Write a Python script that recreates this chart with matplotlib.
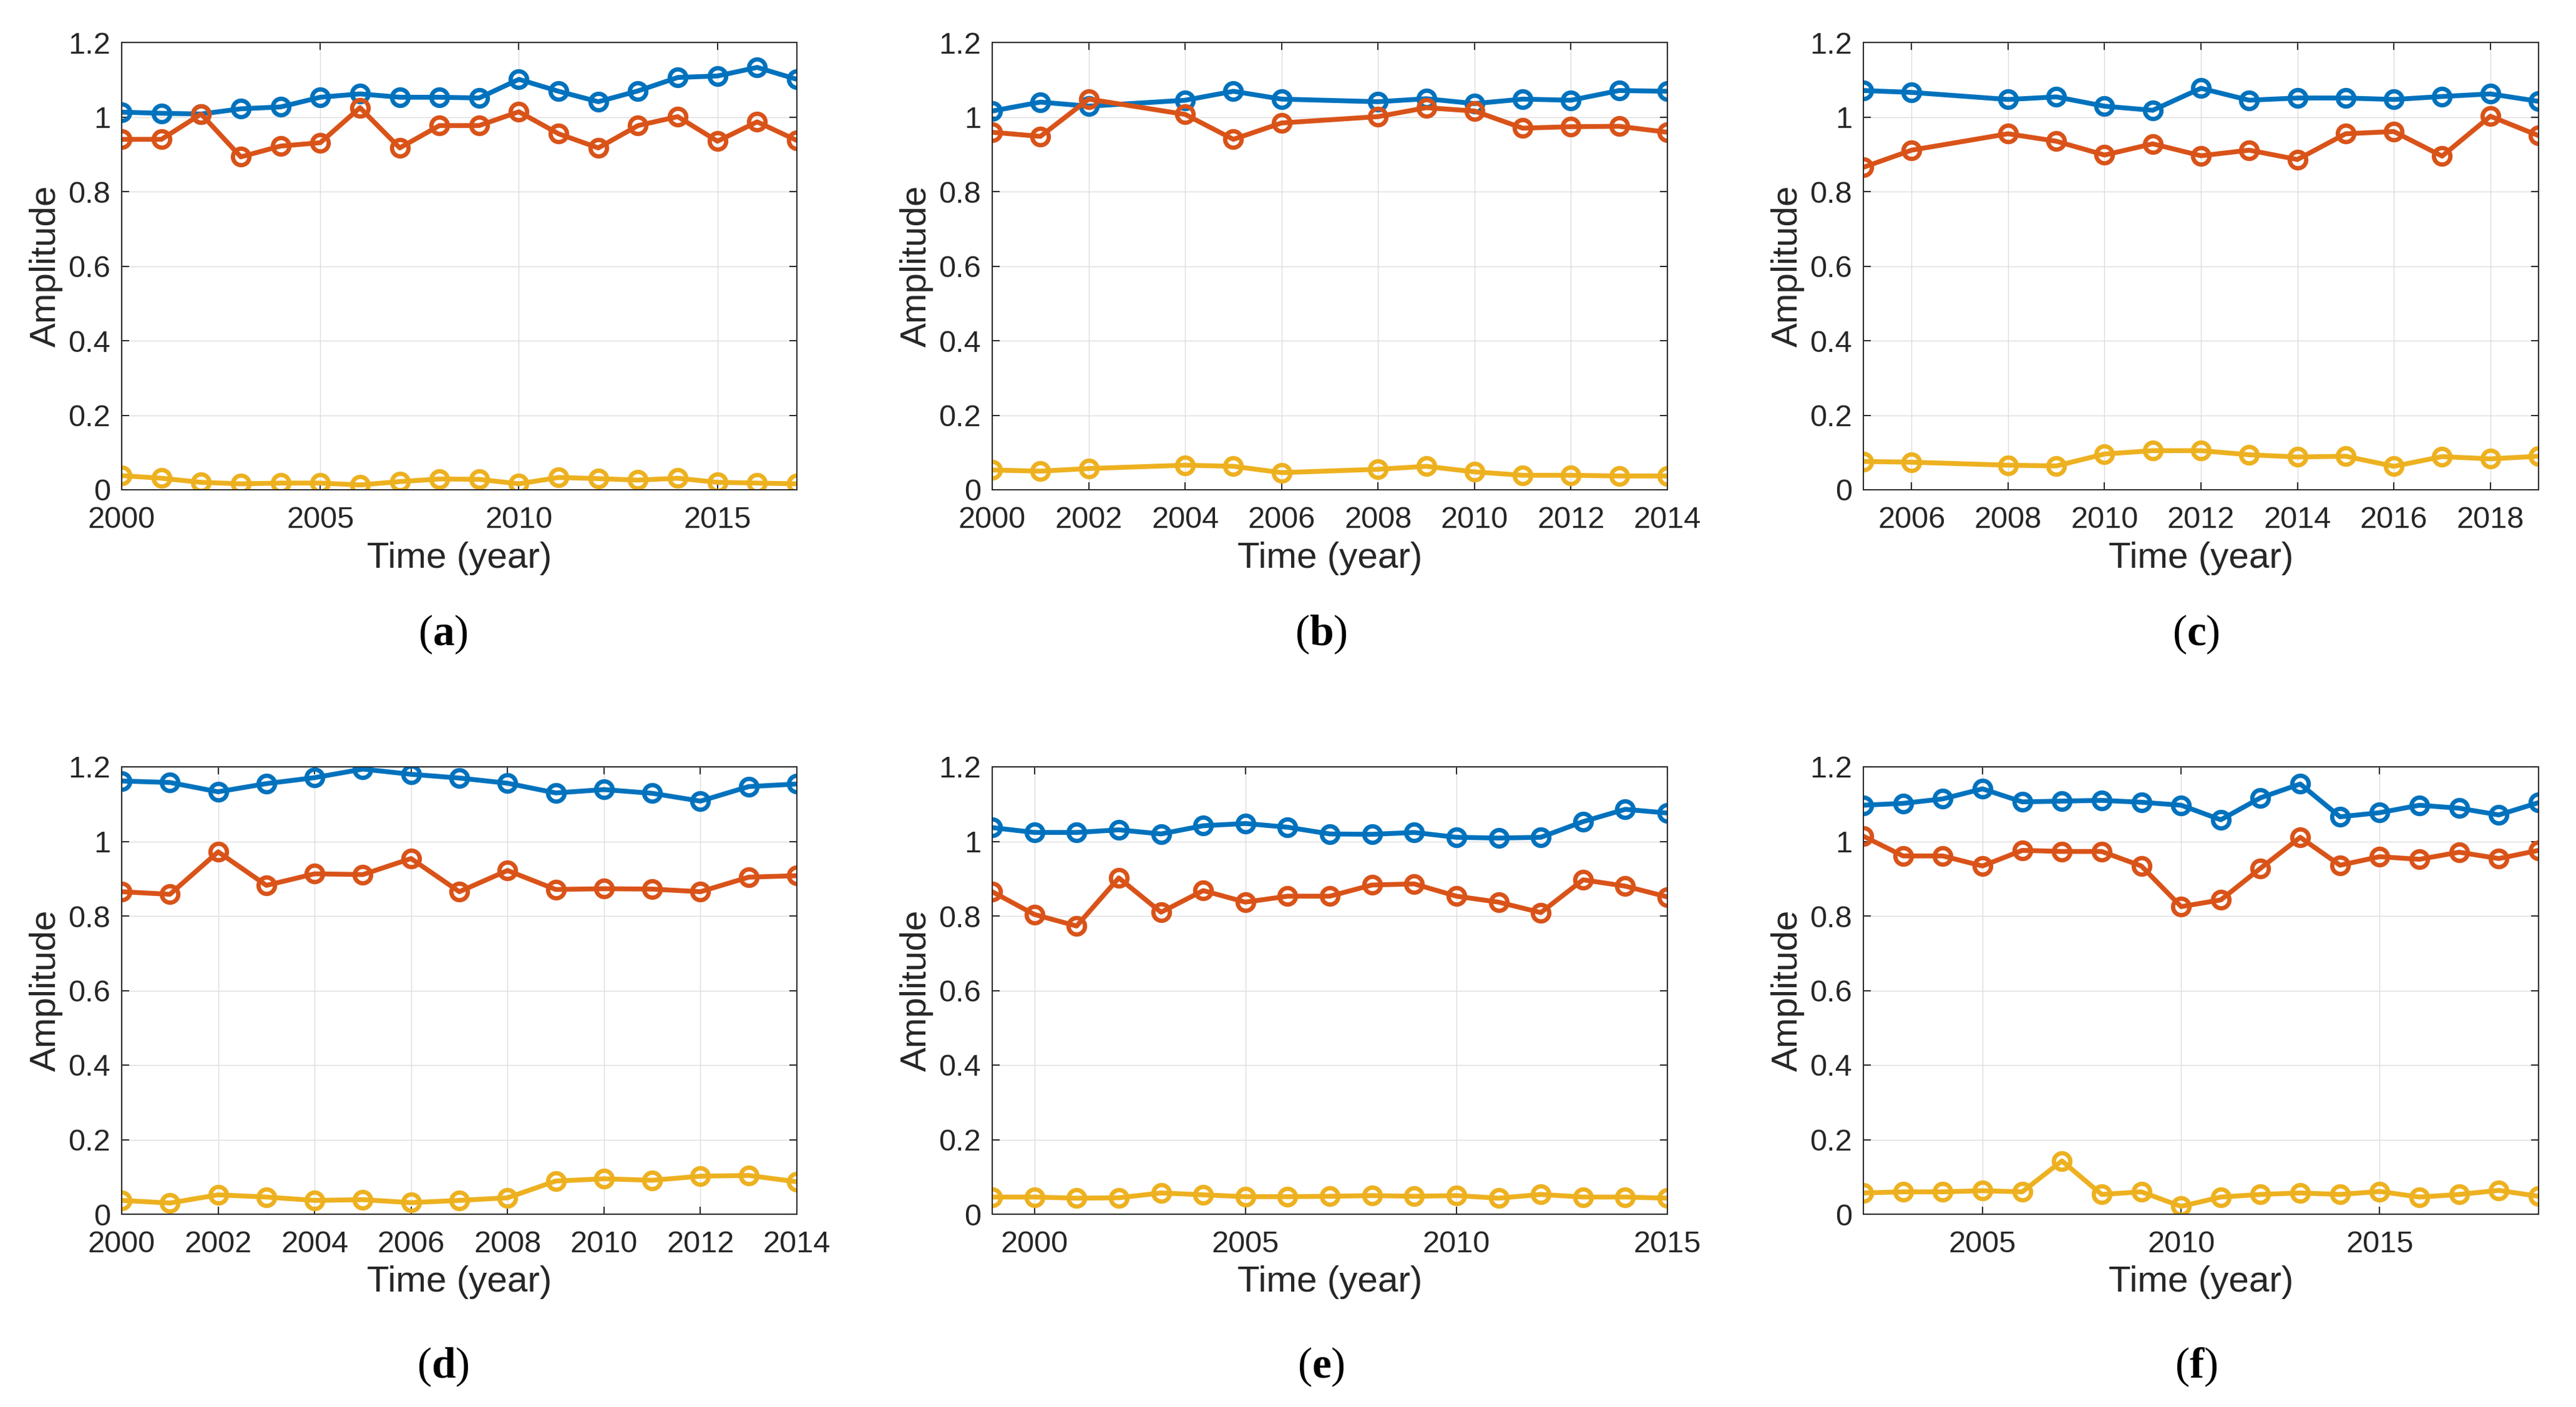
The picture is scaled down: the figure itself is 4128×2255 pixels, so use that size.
import matplotlib
matplotlib.use("Agg")
import matplotlib.pyplot as plt
import numpy as np

plt.rcParams['font.family'] = ['Liberation Sans', 'DejaVu Sans']
plt.rcParams['mathtext.fontset'] = 'custom'
plt.rcParams['mathtext.rm'] = 'Liberation Serif'
plt.rcParams['mathtext.bf'] = 'Liberation Serif:bold'

BLUE = '#0072BD'
ORANGE = '#D95319'
YELLOW = '#EDB120'
TXT = '#262626'

# panel (a)
years_a = list(range(2000, 2018))
blue_a = [1.013, 1.010, 1.008, 1.022, 1.027, 1.053, 1.062, 1.053, 1.053, 1.051,
          1.101, 1.069, 1.041, 1.070, 1.106, 1.110, 1.133, 1.101]
orange_a = [0.940, 0.940, 1.008, 0.893, 0.922, 0.931, 1.025, 0.917, 0.977, 0.977,
            1.014, 0.955, 0.917, 0.977, 1.001, 0.935, 0.987, 0.937]
yellow_a = [0.038, 0.031, 0.020, 0.016, 0.018, 0.018, 0.013, 0.022, 0.029, 0.028,
            0.016, 0.033, 0.030, 0.026, 0.031, 0.020, 0.018, 0.016]

# panel (b)
years_b = [2000, 2001, 2002, 2004, 2005, 2006, 2008, 2009, 2010, 2011, 2012, 2013, 2014]
blue_b = [1.016, 1.040, 1.029, 1.045, 1.069, 1.048, 1.041, 1.049, 1.036, 1.048,
          1.045, 1.071, 1.069]
orange_b = [0.959, 0.948, 1.048, 1.007, 0.940, 0.984, 1.001, 1.025, 1.016, 0.970,
            0.974, 0.975, 0.959]
yellow_b = [0.053, 0.050, 0.057, 0.066, 0.063, 0.046, 0.055, 0.063, 0.048, 0.039,
            0.039, 0.037, 0.037]

# panel (c)
years_c = [2005, 2006, 2008, 2009, 2010, 2011, 2012, 2013, 2014, 2015, 2016, 2017, 2018, 2019]
blue_c = [1.071, 1.066, 1.047, 1.054, 1.029, 1.018, 1.077, 1.045, 1.051, 1.051,
          1.047, 1.055, 1.062, 1.042]
orange_c = [0.865, 0.911, 0.955, 0.935, 0.898, 0.928, 0.896, 0.911, 0.886, 0.955,
            0.961, 0.895, 1.002, 0.950]
yellow_c = [0.076, 0.074, 0.066, 0.064, 0.096, 0.105, 0.105, 0.094, 0.088, 0.090,
            0.063, 0.089, 0.083, 0.090]

# panel (d)
years_d = list(range(2000, 2015))
blue_d = [1.162, 1.158, 1.133, 1.155, 1.171, 1.194, 1.180, 1.170, 1.156, 1.130,
          1.139, 1.129, 1.108, 1.147, 1.154]
orange_d = [0.865, 0.858, 0.972, 0.882, 0.913, 0.911, 0.954, 0.865, 0.922, 0.871,
            0.873, 0.872, 0.865, 0.904, 0.908]
yellow_d = [0.037, 0.030, 0.052, 0.046, 0.037, 0.039, 0.031, 0.037, 0.044, 0.089,
            0.095, 0.091, 0.102, 0.104, 0.087]

# panel (e)
years_e = list(range(1999, 2016))
blue_e = [1.037, 1.024, 1.024, 1.031, 1.020, 1.042, 1.048, 1.038, 1.020, 1.019,
          1.024, 1.011, 1.009, 1.011, 1.053, 1.086, 1.076]
orange_e = [0.865, 0.804, 0.773, 0.902, 0.810, 0.868, 0.837, 0.853, 0.853, 0.883,
            0.886, 0.853, 0.837, 0.809, 0.897, 0.880, 0.851]
yellow_e = [0.046, 0.046, 0.043, 0.044, 0.057, 0.052, 0.047, 0.047, 0.048, 0.050,
            0.048, 0.050, 0.043, 0.053, 0.046, 0.046, 0.043]

# panel (f)
years_f = list(range(2002, 2020))
blue_f = [1.097, 1.102, 1.114, 1.141, 1.106, 1.108, 1.110, 1.105, 1.097, 1.058,
          1.117, 1.154, 1.066, 1.077, 1.097, 1.089, 1.071, 1.104]
orange_f = [1.014, 0.961, 0.961, 0.934, 0.976, 0.973, 0.973, 0.934, 0.825, 0.843,
            0.928, 1.011, 0.936, 0.959, 0.952, 0.971, 0.954, 0.976]
yellow_f = [0.057, 0.060, 0.060, 0.063, 0.060, 0.143, 0.053, 0.060, 0.021, 0.046,
            0.053, 0.057, 0.053, 0.061, 0.046, 0.053, 0.064, 0.048]

panels = [
    ('a', years_a, blue_a, orange_a, yellow_a, (2000, 2017), [2000, 2005, 2010, 2015]),
    ('b', years_b, blue_b, orange_b, yellow_b, (2000, 2014), list(range(2000, 2015, 2))),
    ('c', years_c, blue_c, orange_c, yellow_c, (2005, 2019), list(range(2006, 2019, 2))),
    ('d', years_d, blue_d, orange_d, yellow_d, (2000, 2014), list(range(2000, 2015, 2))),
    ('e', years_e, blue_e, orange_e, yellow_e, (1999, 2015), [2000, 2005, 2010, 2015]),
    ('f', years_f, blue_f, orange_f, yellow_f, (2002, 2019), [2005, 2010, 2015]),
]

yticks = [0, 0.2, 0.4, 0.6, 0.8, 1.0, 1.2]
ytick_labels = ['0', '0.2', '0.4', '0.6', '0.8', '1', '1.2']

W, H = 4128, 2255
fig = plt.figure(figsize=(W / 100, H / 100), dpi=100)

col_left = [195, 1590, 2986]
ax_w = 1082
row_top = [68, 1229]
ax_h = 717
cap_x = [710, 2117, 3519]
cap_y = [1017, 2191]

for i, (tag, yrs, b, o, y, xl, xt) in enumerate(panels):
    r, c = divmod(i, 3)
    ax = fig.add_axes([col_left[c] / W, 1 - (row_top[r] + ax_h) / H, ax_w / W, ax_h / H])
    for vals, col in [(b, BLUE), (o, ORANGE), (y, YELLOW)]:
        ax.plot(yrs, vals, '-o', color=col, lw=5.6, ms=19, mew=5.0,
                mfc='none', mec=col)
    ax.set_xlim(*xl)
    ax.set_ylim(0, 1.2)
    ax.set_xticks(xt)
    ax.set_xticklabels([str(v) for v in xt])
    ax.set_yticks(yticks)
    ax.set_yticklabels(ytick_labels)
    ax.grid(True, color='#dcdcdc', lw=1.0)
    ax.set_axisbelow(True)
    ax.tick_params(direction='in', length=8.5, width=1.4, top=True, right=True,
                   labelsize=35, colors=TXT)
    ax.tick_params(axis='x', pad=19)
    ax.tick_params(axis='y', pad=13)
    for s in ax.spines.values():
        s.set_color(TXT)
        s.set_linewidth(1.4)
    ax.set_xlabel('Time (year)', fontsize=42, color=TXT, labelpad=8)
    ax.set_ylabel('Amplitude', fontsize=42, color=TXT, labelpad=6)
    fig.text(cap_x[c] / W, 1 - cap_y[r] / H, r'$\mathrm{(}\mathbf{' + tag + r'}\mathrm{)}$',
             fontsize=50, ha='center', va='center', color='black')

fig.savefig('out.png', dpi=100)
